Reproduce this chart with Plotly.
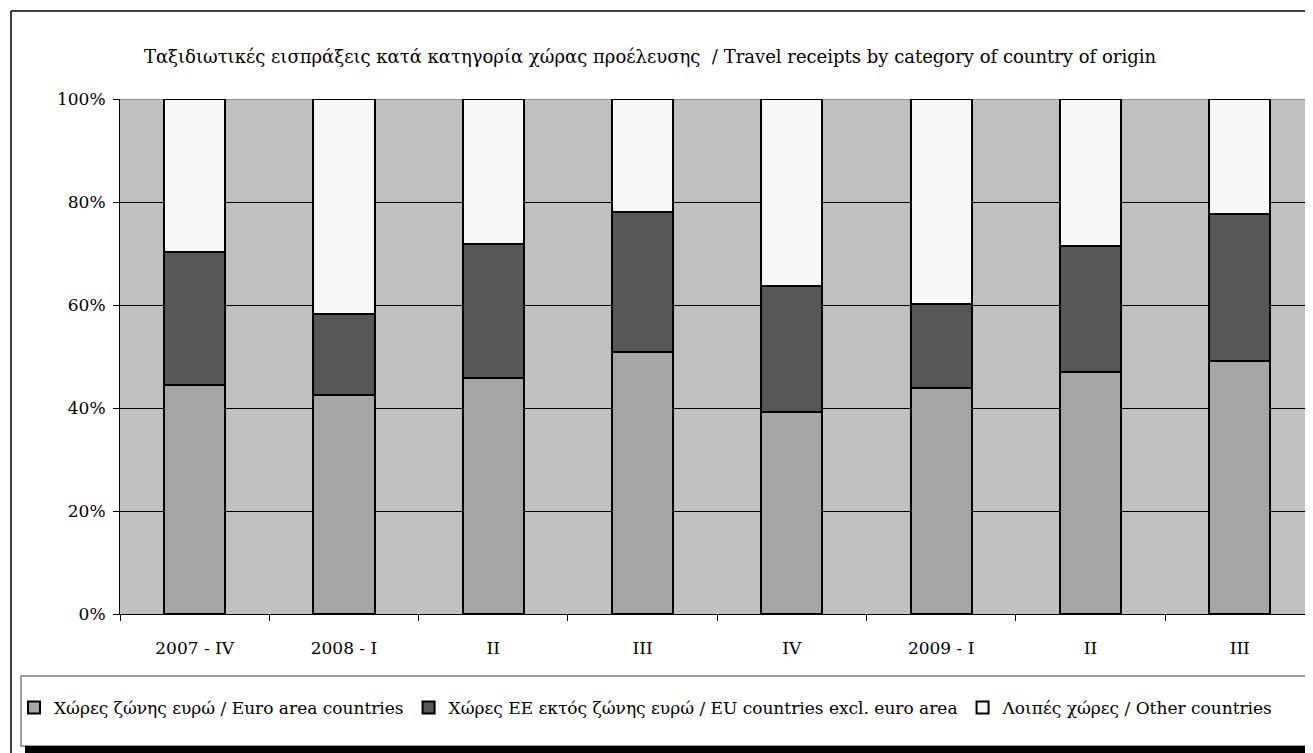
import plotly.graph_objects as go

# ---- data ----
periods = ["2007 - IV", "2008 - I", "II", "III", "IV", "2009 - I", "II", "III"]
euro_area = [44.4, 42.5, 45.9, 50.9, 39.3, 43.9, 46.9, 49.2]
eu_non_euro = [25.8, 15.8, 25.9, 27.1, 24.3, 16.3, 24.5, 28.5]
other = [29.8, 41.7, 28.2, 22.0, 36.4, 39.8, 28.6, 22.3]
series_names = [
    "Χώρες ζώνης ευρώ / Euro area countries",
    "Χώρες ΕΕ εκτός ζώνης ευρώ / EU countries excl. euro area",
    "Λοιπές χώρες / Other countries",
]
title_text = ("Ταξιδιωτικές εισπράξεις κατά κατηγορία χώρας προέλευσης  / "
              "Travel receipts by category of country of origin")
y_ticks = [0, 20, 40, 60, 80, 100]
y_tick_labels = ["0%", "20%", "40%", "60%", "80%", "100%"]

FONT = "DejaVu Serif"
FS = 17
colors = ["#A6A6A6", "#575757", "#F8F8F8"]

x_pos = list(range(len(periods)))

fig = go.Figure()
for name, vals, col in zip(series_names, [euro_area, eu_non_euro, other], colors):
    fig.add_trace(go.Bar(
        x=x_pos, y=vals, name=name, width=0.41,
        marker=dict(color=col, line=dict(color="black", width=2)),
    ))

# page body has an 8px margin; compensate so screen pixels match the reference
OFF = 8
W, H = 1313 - OFF, 753 - OFF
L, R, T, B = 112, 0, 91, 139
pw, ph = W - L - R, H - T - B
def px(x):
    return (x - OFF - L) / pw
def py(y):
    return (H - B - (y - OFF)) / ph

shapes = [
    # outer chart border (left and top)
    dict(type="line", xref="paper", yref="paper", x0=px(11), x1=px(11), y0=py(11), y1=py(770),
         line=dict(color="black", width=1.5), layer="above"),
    dict(type="line", xref="paper", yref="paper", x0=px(11), x1=px(1330), y0=py(11), y1=py(11),
         line=dict(color="black", width=1.5), layer="above"),
    # legend box
    dict(type="rect", xref="paper", yref="paper", x0=px(21), x1=px(1330), y0=py(676), y1=py(746),
         line=dict(color="#808080", width=1.5), fillcolor="white", layer="below"),
    # legend shadow
    dict(type="rect", xref="paper", yref="paper", x0=px(25), x1=px(1330), y0=py(746), y1=py(770),
         line=dict(width=0), fillcolor="black", layer="below"),
    # top border of plot area
    dict(type="line", xref="paper", yref="y", x0=0, x1=1, y0=100, y1=100,
         line=dict(color="#808080", width=1.5), layer="between"),
]

fig.update_layout(
    width=W, height=H,
    margin=dict(l=L, r=R, t=T, b=B, pad=0),
    paper_bgcolor="white",
    plot_bgcolor="#C0C0C0",
    barmode="stack",
    bargap=0,
    font=dict(family=FONT, size=FS, color="black"),
    title=dict(text=title_text, x=px(650), xanchor="center", xref="paper",
               y=1 - (57 - OFF) / H, yanchor="middle", yref="container",
               font=dict(family=FONT, size=18, color="black")),
    showlegend=True,
    legend=dict(orientation="h", x=px(14), xanchor="left", y=py(708), yanchor="middle",
                traceorder="normal", bgcolor="rgba(0,0,0,0)", borderwidth=0,
                font=dict(family=FONT, size=FS, color="black"), itemwidth=30,
                tracegroupgap=0),
    shapes=shapes,
)

fig.update_xaxes(
    range=[-0.5, -0.5 + pw / 149.3],
    tickmode="array", tickvals=x_pos, ticktext=periods, ticks="",
    showline=True, linecolor="black", linewidth=1,
    showgrid=False, zeroline=False,
    ticklabelstandoff=19,
    minor=dict(tickmode="array", tickvals=[i - 0.5 for i in range(len(periods) + 1)],
               ticks="outside", ticklen=6, tickcolor="black", tickwidth=1, showgrid=False),
    tickfont=dict(family=FONT, size=FS, color="black"),
    fixedrange=True,
)
fig.update_yaxes(
    range=[0, 100], tickmode="array", tickvals=y_ticks, ticktext=y_tick_labels,
    ticks="outside", ticklen=6, tickcolor="black", tickwidth=1,
    showline=True, linecolor="black", linewidth=1,
    showgrid=True, gridcolor="black", gridwidth=1, zeroline=False,
    ticklabelstandoff=4,
    tickfont=dict(family=FONT, size=FS, color="black"),
    fixedrange=True,
)

fig.write_html("out.html")
